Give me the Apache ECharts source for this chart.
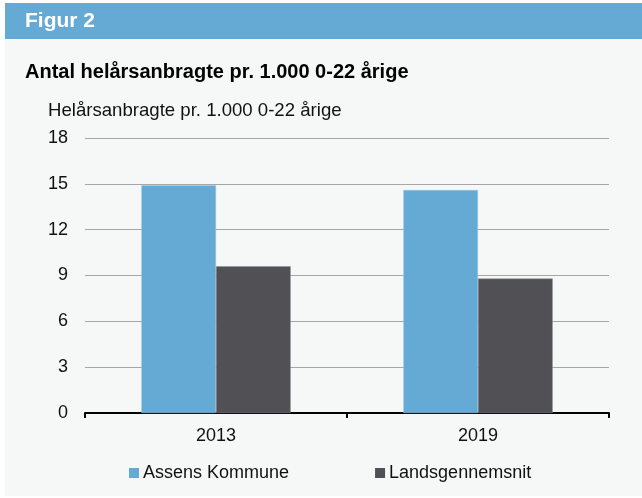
<!DOCTYPE html>
<html>
<head>
<meta charset="utf-8">
<script src="https://cdn.jsdelivr.net/npm/echarts@6/dist/echarts.min.js"></script>
<style>
  html, body { margin: 0; padding: 0; background: #fff; }
  #chart { width: 642px; height: 498px; }
</style>
</head>
<body>
<div id="chart"></div>
<script>
// data
var years = ['2013', '2019'];
var assens = [14.9, 14.6];
var landsgennemsnit = [9.6, 8.8];
var seriesNames = ['Assens Kommune', 'Landsgennemsnit'];

var font = '"Liberation Sans", Arial, sans-serif';
var myChart = echarts.init(document.getElementById('chart'));

var option = {
    animation: false,
    textStyle: { fontFamily: font },
    graphic: [
        // grey panel
        { type: 'rect', shape: { x: 5, y: 39, width: 637, height: 457 }, style: { fill: '#f6f8f8' }, silent: true, z: -10 },
        // blue header
        { type: 'rect', shape: { x: 5, y: 3, width: 637, height: 36 }, style: { fill: '#64aad5' }, silent: true, z: -10 }
    ],
    title: [
        {
            text: 'Figur 2', left: 25, top: 11, padding: 0,
            textStyle: { color: '#fff', fontSize: 21, fontWeight: 'bold', fontFamily: font }
        },
        {
            text: 'Antal helårsanbragte pr. 1.000 0-22 årige', left: 25, top: 62, padding: 0,
            textStyle: { color: '#000', fontSize: 20, fontWeight: 'bold', fontFamily: font }
        },
        {
            text: 'Helårsanbragte pr. 1.000 0-22 årige', left: 48, top: 101, padding: 0,
            textStyle: { color: '#111', fontSize: 18.6, fontWeight: 'normal', fontFamily: font }
        }
    ],
    legend: {
        data: seriesNames,
        left: 129, top: 464, padding: 0,
        itemWidth: 10, itemHeight: 10, itemGap: 86,
        icon: 'rect',
        itemStyle: { borderWidth: 0 },
        textStyle: { fontSize: 18, color: '#111', fontFamily: font, padding: [0, 0, 0, -1] }
    },
    grid: { left: 85, right: 33, top: 138, bottom: 85 },
    xAxis: {
        type: 'category',
        data: years,
        axisLine: { lineStyle: { color: '#000', width: 2 } },
        axisTick: { show: true, length: 5, lineStyle: { color: '#000', width: 2 } },
        axisLabel: { fontSize: 18, color: '#111', margin: 14, fontFamily: font }
    },
    yAxis: {
        type: 'value',
        min: 0, max: 18, interval: 3,
        axisLine: { show: false },
        axisTick: { show: false },
        axisLabel: { fontSize: 18, color: '#111', margin: 17, fontFamily: font },
        splitLine: { lineStyle: { color: '#a6a6a6', width: 1 } }
    },
    series: [
        {
            name: seriesNames[0], type: 'bar', data: assens,
            barGap: '0%', barCategoryGap: '43%',
            itemStyle: { color: '#64aad5', borderColor: '#9ccbe8', borderWidth: 0.5 }
        },
        {
            name: seriesNames[1], type: 'bar', data: landsgennemsnit,
            itemStyle: { color: '#505055', borderColor: '#8a8a8f', borderWidth: 0.5 }
        }
    ]
};
option && myChart.setOption(option);
</script>
</body>
</html>
